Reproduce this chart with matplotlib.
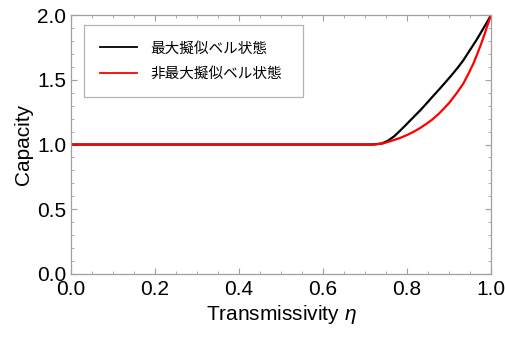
import matplotlib
matplotlib.use("Agg")
import matplotlib.pyplot as plt
from matplotlib.ticker import MultipleLocator

plt.rcParams['font.family'] = ['Liberation Sans', 'Noto Sans CJK JP', 'DejaVu Sans']
plt.rcParams['mathtext.fontset'] = 'custom'
plt.rcParams['mathtext.it'] = 'Liberation Sans:italic'

# values
eta_max = [0.0, 0.72, 0.74, 0.755, 0.77, 0.783, 0.80, 0.815, 0.831, 0.845, 0.859, 0.875,
           0.89, 0.906, 0.92, 0.934, 0.95, 0.966, 0.976, 0.986, 0.994, 1.0]
cap_max = [1.0, 1.0, 1.008, 1.03, 1.065, 1.105, 1.16, 1.21, 1.262, 1.312, 1.363, 1.42,
           1.475, 1.535, 1.59, 1.65, 1.73, 1.81, 1.865, 1.92, 1.965, 2.0]

eta_non = [0.0, 0.72, 0.74, 0.76, 0.783, 0.80, 0.815, 0.831, 0.845, 0.859, 0.875,
           0.89, 0.90, 0.918, 0.934, 0.946, 0.958, 0.968, 0.978, 0.985, 0.99, 0.995, 1.0]
cap_non = [1.0, 1.0, 1.006, 1.025, 1.05, 1.073, 1.097, 1.127, 1.157, 1.19, 1.235,
           1.285, 1.32, 1.395, 1.47, 1.545, 1.625, 1.705, 1.79, 1.855, 1.905, 1.952, 2.0]

labels = ['最大擬似ベル状態', '非最大擬似ベル状態']

fig = plt.figure(figsize=(5.05, 3.43), dpi=100)
ax = fig.add_axes([0.1406, 0.2012, 0.8317, 0.755])

ax.plot(eta_max, cap_max, color='black', lw=1.6, label=labels[0])
ax.plot(eta_non, cap_non, color='#ff0000', lw=1.6, label=labels[1])

ax.set_xlim(0, 1)
ax.set_ylim(0, 2)
ax.xaxis.set_major_locator(MultipleLocator(0.2))
ax.xaxis.set_minor_locator(MultipleLocator(0.05))
ax.yaxis.set_major_locator(MultipleLocator(0.5))
ax.yaxis.set_minor_locator(MultipleLocator(0.1))
ax.xaxis.set_major_formatter(lambda v, p: '%.1f' % v)
ax.yaxis.set_major_formatter(lambda v, p: '%.1f' % v)

for s in ax.spines.values():
    s.set_color('#a0a0a0')
    s.set_linewidth(0.9)
ax.tick_params(which='both', direction='in', top=True, right=True, colors='#a0a0a0',
               labelcolor='black', labelsize=15)
ax.tick_params(which='major', length=4.5, width=0.8)
ax.tick_params(which='minor', length=2.5, width=0.6)
ax.tick_params(axis='x', pad=4)
ax.tick_params(axis='y', pad=3.5)

ax.set_xlabel('Transmissivity $\\mathit{\\eta}$', fontsize=15, labelpad=3)
ax.set_ylabel('Capacity', fontsize=15, labelpad=3)

leg = ax.legend(loc='upper left', bbox_to_anchor=(0.031, 0.691, 0.521, 0.27), mode='expand',
                fontsize=10.5, frameon=True, fancybox=False, edgecolor='#a0a0a0',
                borderpad=1.12, handlelength=2.5, handletextpad=0.9, labelspacing=0.78,
                borderaxespad=0)
leg.get_frame().set_linewidth(0.9)
for line in leg.get_lines():
    line.set_linewidth(1.3)
for t in leg.get_texts():
    t.set_fontfamily(['Noto Sans CJK JP', 'DejaVu Sans'])

fig.savefig('out.png', dpi=100)
